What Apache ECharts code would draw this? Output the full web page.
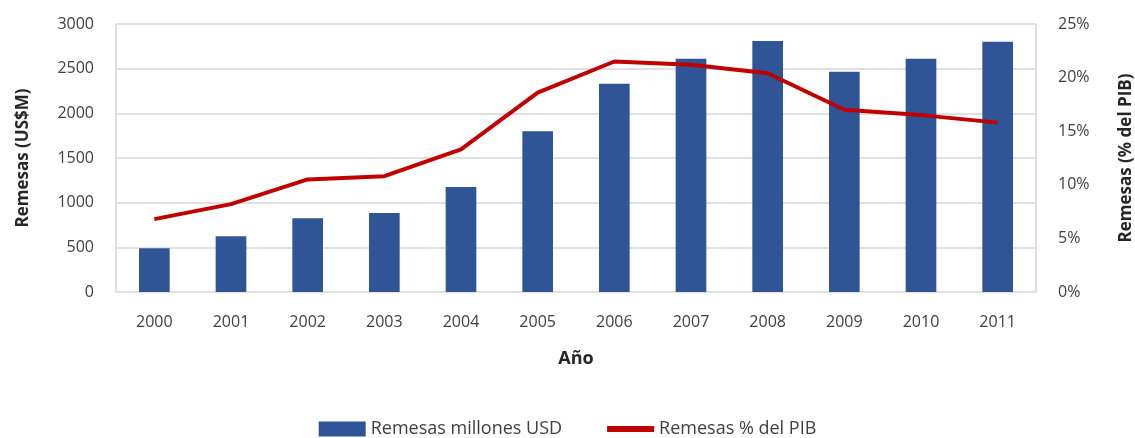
<!DOCTYPE html>
<html>
<head>
<meta charset="utf-8">
<script src="https://cdn.jsdelivr.net/npm/echarts@6/dist/echarts.min.js"></script>
<style>
  html, body { margin: 0; padding: 0; background: #fff; }
  #chart { width: 1135px; height: 438px; }
</style>
</head>
<body>
<div id="chart"></div>
<script>
const years = ['2000','2001','2002','2003','2004','2005','2006','2007','2008','2009','2010','2011'];
const remesasUSD = [490, 625, 825, 885, 1175, 1800, 2330, 2610, 2810, 2465, 2610, 2800];
const remesasPIB = [6.8, 8.2, 10.5, 10.8, 13.3, 18.6, 21.5, 21.2, 20.4, 17.0, 16.5, 15.8];

const txt = '#404040';
const fontFam = '"Open Sans", "Noto Sans", sans-serif';

let myChart = echarts.init(document.getElementById('chart'));

let option = {
  animation: false,
  textStyle: { fontFamily: fontFam },
  grid: {
    left: 116, right: 99, top: 24, bottom: 146,
    outerBoundsMode: 'none',
    show: true, borderColor: '#bfbfbf', borderWidth: 1
  },
  legend: {
    top: 418,
    left: 'center',
    padding: 0,
    itemGap: 45,
    itemWidth: 47,
    itemHeight: 15,
    textStyle: { fontSize: 18, color: txt, fontFamily: fontFam, lineHeight: 22 },
    data: [
      { name: 'Remesas millones USD', icon: 'rect' },
      { name: 'Remesas % del PIB', icon: 'path://M0,0 H40 V5 H0 Z', itemStyle: { color: '#C00000' } }
    ]
  },
  xAxis: {
    type: 'category',
    data: years,
    name: 'Año',
    nameLocation: 'middle',
    nameGap: 58,
    nameTextStyle: { fontSize: 18, fontWeight: 'bold', color: '#262626' },
    axisLine: { show: false },
    axisTick: { show: false },
    axisLabel: { fontSize: 16, color: txt, margin: 22 }
  },
  yAxis: [
    {
      type: 'value',
      min: 0, max: 3000, interval: 500,
      name: 'Remesas (US$M)',
      nameLocation: 'middle',
      nameGap: 84,
      nameTextStyle: { fontSize: 17, fontWeight: 'bold', color: '#262626' },
      axisLabel: { fontSize: 16, color: txt, margin: 22, formatter: function (v) { return String(v); } },
      splitLine: { lineStyle: { color: '#e0e0e0', width: 2 } }
    },
    {
      type: 'value',
      min: 0, max: 25, interval: 5,
      name: 'Remesas (% del PIB)',
      nameLocation: 'middle',
      nameGap: 82,
      nameRotate: 90,
      nameTextStyle: { fontSize: 17, fontWeight: 'bold', color: '#262626' },
      axisLabel: { fontSize: 16, color: txt, margin: 22, formatter: '{value}%' },
      splitLine: { show: false }
    }
  ],
  series: [
    {
      name: 'Remesas millones USD',
      type: 'bar',
      data: remesasUSD,
      barWidth: '40%',
      itemStyle: { color: '#2F5597' }
    },
    {
      name: 'Remesas % del PIB',
      type: 'line',
      yAxisIndex: 1,
      data: remesasPIB,
      symbol: 'none',
      lineStyle: { color: '#C00000', width: 4 },
      itemStyle: { color: '#C00000' }
    }
  ]
};

myChart.setOption(option);
</script>
</body>
</html>
